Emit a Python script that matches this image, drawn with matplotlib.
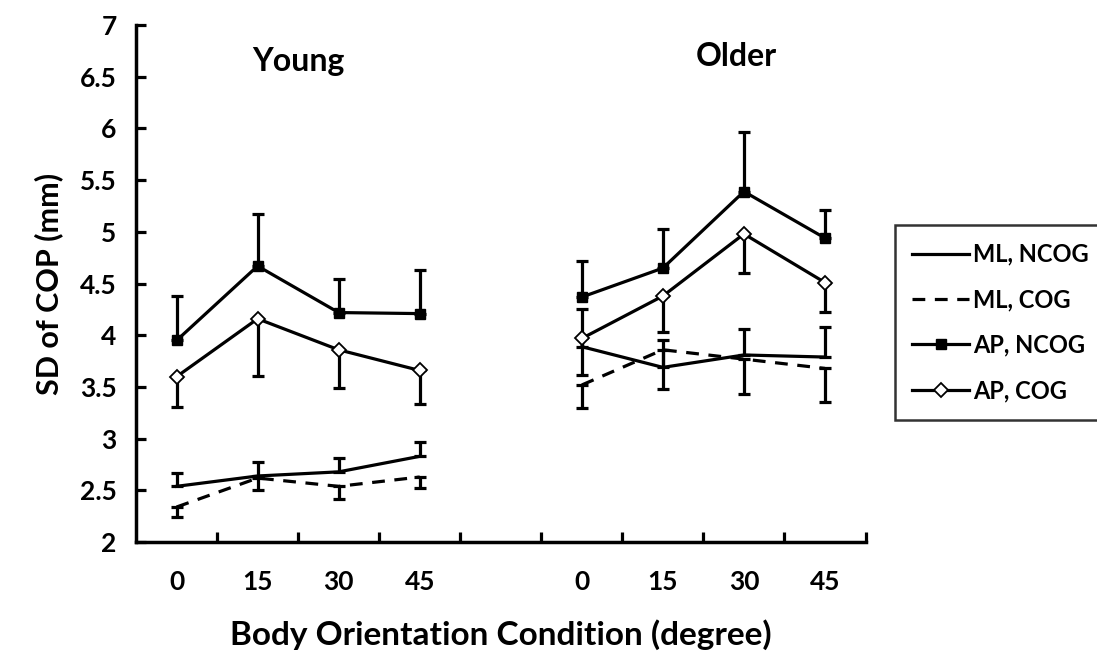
import numpy as np
import matplotlib.pyplot as plt

# category labels along x (blank slot separates the two groups)
tick_labels = ['0', '15', '30', '45', '', '0', '15', '30', '45']

# means, young then older
ml_ncog_young = [2.54, 2.64, 2.68, 2.83]
ml_ncog_older = [3.89, 3.69, 3.81, 3.79]
ml_cog_young = [2.34, 2.62, 2.54, 2.63]
ml_cog_older = [3.52, 3.86, 3.77, 3.68]
ap_ncog_young = [3.95, 4.67, 4.22, 4.21]
ap_ncog_older = [4.37, 4.65, 5.39, 4.94]
ap_cog_young = [3.60, 4.16, 3.86, 3.66]
ap_cog_older = [3.97, 4.38, 4.98, 4.51]

# one-sided error bars
ml_ncog_err_young = [0.13, 0.14, 0.13, 0.14]
ml_ncog_err_older = [0.36, 0.26, 0.25, 0.29]
ml_cog_err_young = [0.10, 0.12, 0.12, 0.11]
ml_cog_err_older = [0.22, 0.38, 0.34, 0.32]
ap_ncog_err_young = [0.43, 0.50, 0.32, 0.42]
ap_ncog_err_older = [0.35, 0.38, 0.58, 0.27]
ap_cog_err_young = [0.29, 0.55, 0.37, 0.32]
ap_cog_err_older = [0.35, 0.35, 0.38, 0.28]

plt.rcParams['font.family'] = ['Lato', 'DejaVu Sans']
plt.rcParams['font.weight'] = 'bold'


def join(young, older):
    return np.array(young + [np.nan] + older, dtype=float)


x = np.arange(len(tick_labels))
lw = 2.3

fig = plt.figure(figsize=(10.97, 6.58), dpi=100)
ax = fig.add_axes([0.124, 0.176, 0.665, 0.786])

series = [
    ('ML, NCOG', ml_ncog_young, ml_ncog_older, ml_ncog_err_young, ml_ncog_err_older, 'up',
     dict(linestyle='-', marker=None)),
    ('ML, COG', ml_cog_young, ml_cog_older, ml_cog_err_young, ml_cog_err_older, 'down',
     dict(linestyle=(0, (4, 3)), marker=None)),
    ('AP, NCOG', ap_ncog_young, ap_ncog_older, ap_ncog_err_young, ap_ncog_err_older, 'up',
     dict(linestyle='-', marker='s', markersize=6.5, markerfacecolor='black')),
    ('AP, COG', ap_cog_young, ap_cog_older, ap_cog_err_young, ap_cog_err_older, 'down',
     dict(linestyle='-', marker='D', markersize=7, markerfacecolor='white',
          markeredgewidth=1.3)),
]

for name, yv, ov, ye, oe, side, style in series:
    vals = join(yv, ov)
    errs = join(ye, oe)
    zero = np.zeros_like(errs)
    yerr = [zero, errs] if side == 'up' else [errs, zero]
    # error bars first, line + markers on top
    ax.errorbar(x, vals, yerr=yerr, fmt='none', ecolor='black', elinewidth=lw,
                capsize=4, capthick=lw, zorder=2)
    ax.plot(x, vals, color='black', linewidth=lw, markeredgecolor='black',
            label=name, zorder=3, **style)

ax.set_xlim(-0.5, 8.5)
ax.set_ylim(2, 7)
ax.set_yticks(np.arange(2, 7.01, 0.5))
ax.set_yticklabels(['2', '2.5', '3', '3.5', '4', '4.5', '5', '5.5', '6', '6.5', '7'])

# ticks sit between categories, labels at the centres
ax.set_xticks(np.arange(0.5, 8.6, 1.0))
ax.set_xticklabels([])
ax.set_xticks(x, tick_labels, minor=True)
ax.tick_params(axis='x', which='minor', length=0, pad=20, labelsize=19)
ax.tick_params(axis='x', which='major', direction='in', length=7, width=2.3)
ax.tick_params(axis='y', direction='in', length=7, width=2.3, labelsize=19, pad=14)

for side in ['top', 'right']:
    ax.spines[side].set_visible(False)
for side in ['left', 'bottom']:
    ax.spines[side].set_linewidth(2.5)

ax.set_ylabel('SD of COP (mm)', fontsize=22, fontweight='bold', labelpad=12)
ax.set_xlabel('Body Orientation Condition (degree)', fontsize=24, fontweight='bold',
              labelpad=18)

ax.text(1.5, 6.65, 'Young', ha='center', va='center', fontsize=23, fontweight='bold')
ax.text(6.9, 6.70, 'Older', ha='center', va='center', fontsize=23, fontweight='bold')

leg = ax.legend(loc='upper left', bbox_to_anchor=(1.04, 0.613), fontsize=17,
                frameon=True, fancybox=False, edgecolor='black', handlelength=2.4,
                handletextpad=0.15, labelspacing=0.95, borderpad=0.75,
                borderaxespad=0)
leg.get_frame().set_linewidth(1.8)

fig.savefig('out.png', dpi=100)
